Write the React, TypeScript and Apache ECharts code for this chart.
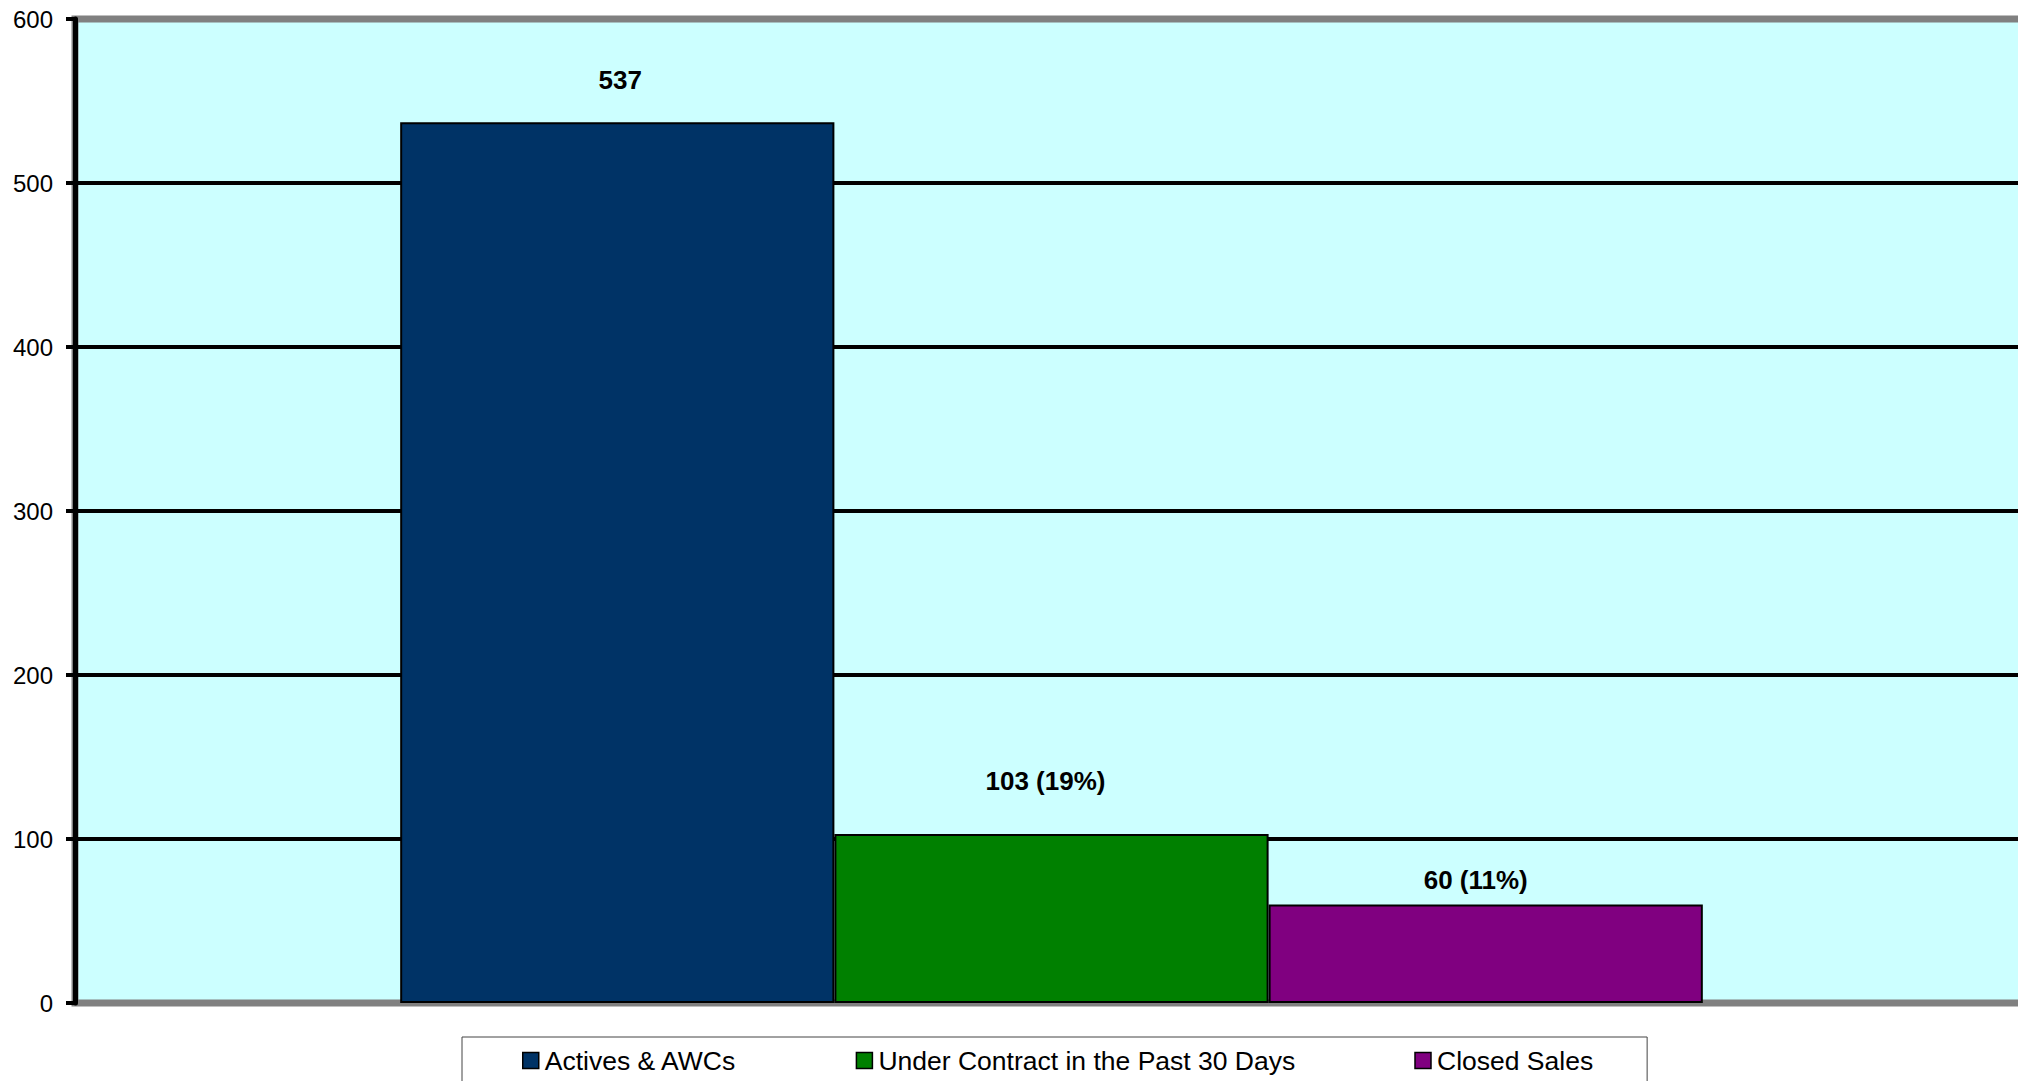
import React, { useEffect, useRef } from "react";
import * as echarts from "echarts";

const categories = [""];
const seriesNames = ["Actives & AWCs", "Under Contract in the Past 30 Days", "Closed Sales"];
const seriesValues = [537, 103, 60];
const seriesColors = ["#003366", "#008000", "#800080"];
const yTicks = { min: 0, max: 600, interval: 100 };

const labelDistances = [29, 40, 12];
const labelOffsets = [[3, 0], [-6, 0], [-10, 0]];

export default function App() {
  const ref = useRef<HTMLDivElement>(null);
  useEffect(() => {
    if (!ref.current) return;
    const chart = echarts.init(ref.current, null, { renderer: "svg" });
    const base = seriesValues[0];
    const font = "'Liberation Sans', Arial, sans-serif";
    const series = seriesNames.map((name, i) => ({
      name,
      type: "bar",
      data: [seriesValues[i]],
      barGap: "0%",
      barCategoryGap: "33.3%",
      itemStyle: { color: seriesColors[i], borderColor: "#000", borderWidth: 2 },
      label: {
        show: true,
        position: "top",
        distance: labelDistances[i],
        offset: labelOffsets[i],
        fontFamily: font,
        fontSize: 26,
        fontWeight: "bold",
        color: "#000",
        formatter: (p: any) =>
          i === 0 ? String(p.value) : `${p.value} (${Math.round((p.value / base) * 100)}%)`,
      },
    }));
    chart.setOption({
      animation: false,
      backgroundColor: "#ffffff",
      textStyle: { fontFamily: font },
      grid: {
        left: 75,
        top: 19,
        width: 1953,
        height: 984,
        show: true,
        backgroundColor: "#CCFFFF",
        borderColor: "#808080",
        borderWidth: 7,
        containLabel: false,
      },
      legend: {
        data: seriesNames,
        left: 462,
        top: 1037,
        padding: [10, 54, 40, 60],
        itemGap: 119,
        itemWidth: 16,
        itemHeight: 16,
        backgroundColor: "#ffffff",
        borderColor: "#444",
        borderWidth: 1,
        borderRadius: 0,
        icon: "rect",
        itemStyle: { borderColor: "#000", borderWidth: 1.5 },
        textStyle: { fontFamily: font, fontSize: 26.5, color: "#000", padding: [0, 0, 0, 1] },
      },
      xAxis: {
        type: "category",
        data: categories,
        axisLine: { show: false },
        axisTick: { show: false },
        axisLabel: { show: false },
      },
      yAxis: {
        type: "value",
        min: yTicks.min,
        max: yTicks.max,
        interval: yTicks.interval,
        axisLine: { show: true, lineStyle: { color: "#000", width: 5 } },
        axisTick: { show: true, length: 9, lineStyle: { color: "#000", width: 4 } },
        axisLabel: { fontFamily: font, fontSize: 24, color: "#000", margin: 22 },
        splitLine: {
          show: true,
          showMinLine: false,
          showMaxLine: false,
          lineStyle: { color: "#000", width: 4 },
        },
      },
      series,
    });
    return () => chart.dispose();
  }, []);
  return (
    <div
      ref={ref}
      style={{ position: "fixed", left: 0, top: 0, width: 2034, height: 1081 }}
    />
  );
}
